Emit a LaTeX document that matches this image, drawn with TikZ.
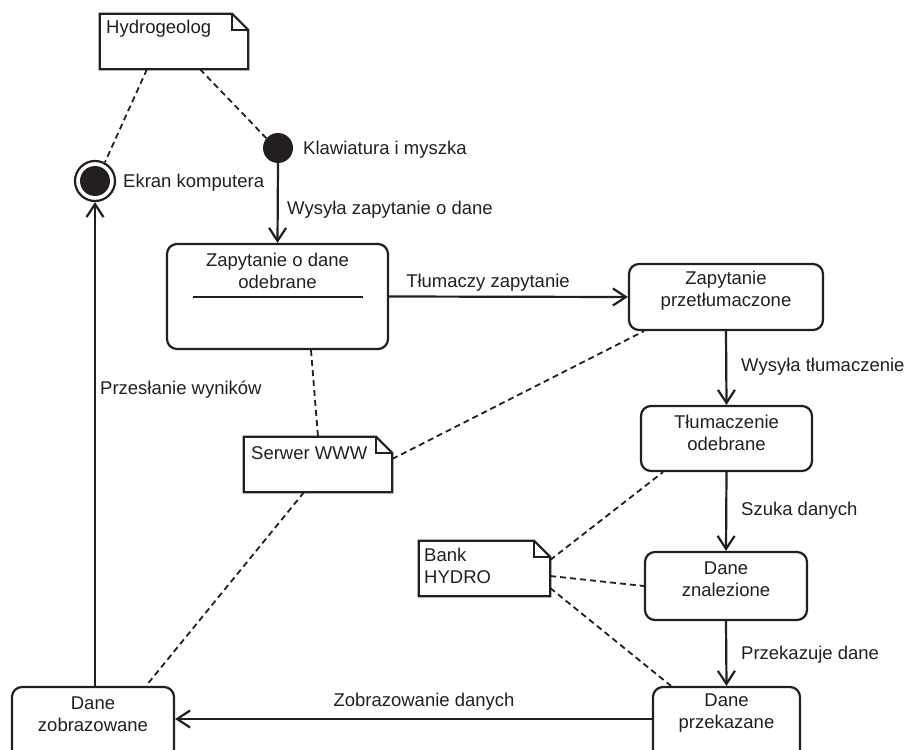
\documentclass[tikz,border=0pt]{standalone}
\usepackage{fontspec}
\setmainfont{Liberation Sans}
\usetikzlibrary{arrows.meta,calc}
\definecolor{ink}{HTML}{231F20}
\begin{document}
\begin{tikzpicture}[x=1pt,y=-1pt,
  every node/.style={font=\fontsize{18.5}{22}\selectfont, text=ink, inner sep=0pt},
  statebox/.style={draw=ink, line width=2.2pt, rounded corners=10pt},
  notebox/.style={draw=none},
  flow/.style={draw=ink, line width=2.2pt, -{Straight Barb[length=13pt,width=17pt,line width=2.2pt]}},
  assoc/.style={draw=ink, line width=1.8pt, dash pattern=on 6pt off 4pt},
  lbl/.style={anchor=west},
  stxt/.style={align=center}
]
\useasboundingbox (0,0) rectangle (904,749);
\clip (0,0) rectangle (904,749);

% note shape with folded corner
\newcommand{\notepath}[1]{%
  \draw[ink, line width=2.2pt, line join=miter]
    (#1.north west) -- ([xshift=-16pt]#1.north east) -- ([yshift=-16pt]#1.north east)
    -- (#1.south east) -- (#1.south west) -- cycle;
  \draw[ink, line width=2pt]
    ([xshift=-16pt]#1.north east) |- ([yshift=-16pt]#1.north east);}

% notes
\node[notebox, minimum width=148pt, minimum height=55pt] (hydro) at (174,41.5) {};
\notepath{hydro}
\node[lbl] (hydrot) at (106,29) {Hydrogeolog};

\node[notebox, minimum width=148pt, minimum height=55pt] (serwer) at (318,464.5) {};
\notepath{serwer}
\node[lbl] (serwert) at (251,453) {Serwer WWW};

\node[notebox, minimum width=131pt, minimum height=55pt] (bank) at (484.5,568.5) {};
\notepath{bank}
\node[lbl, align=left] (bankt) at (424,566) {Bank\\HYDRO};

% initial and final pseudo-states
\node[circle, fill=ink, minimum size=30pt] (klaw) at (278,148) {};
\node[lbl] (klawt) at (303,150) {Klawiatura i myszka};

\node[circle, draw=ink, line width=2.2pt, minimum size=40pt] (ekran) at (95,181) {};
\fill[ink] (ekran.center) circle (15pt);
\node[lbl] (ekrant) at (123,183) {Ekran komputera};

% states
\node[statebox, minimum width=221pt, minimum height=105pt] (zq) at (277.5,296.5) {};
\node[stxt] (zqt) at (277.5,271) {Zapytanie o dane\\odebrane};
\draw[ink, line width=2pt] ([xshift=-85pt]zq.center) -- ([xshift=85pt]zq.center);

\node[statebox, minimum width=194pt, minimum height=66pt] (zp) at (726,297) {};
\node[stxt] (zpt) at (726,291) {Zapytanie\\przetłumaczone};

\node[statebox, minimum width=171pt, minimum height=65pt] (to) at (726.5,438.5) {};
\node[stxt] (tot) at (726.5,432.5) {Tłumaczenie\\odebrane};

\node[statebox, minimum width=162pt, minimum height=68pt] (dzn) at (726,586) {};
\node[stxt] (dznt) at (726,579) {Dane\\znalezione};

\node[statebox, minimum width=147pt, minimum height=83pt] (dp) at (726.5,728.5) {};
\node[stxt] (dpt) at (726.5,713) {Dane\\przekazane};

\node[statebox, minimum width=162pt, minimum height=83pt] (dz) at (93,728.5) {};
\node[stxt] (dzt) at (93,714) {Dane\\zobrazowane};

% transitions
\draw[flow] (klaw.south) -- (zq.north);
\node[lbl] (l1) at (287,210) {Wysyła zapytanie o dane};

\draw[flow] (zq.east) -- (zp.west);
\node (l2) at (488,283) {Tłumaczy zapytanie};

\draw[flow] (zp.south) -- (to.north);
\node[lbl] (l3) at (741,367) {Wysyła tłumaczenie};

\draw[flow] (to.south) -- (dzn.north);
\node[lbl] (l4) at (741,511) {Szuka danych};

\draw[flow] (dzn.south) -- (dp.north);
\node[lbl] (l5) at (741,655) {Przekazuje dane};

\draw[flow] ([yshift=9.5pt]dp.west) -- ([yshift=9.5pt]dz.east);
\node (l6) at (424,702) {Zobrazowanie danych};

\draw[flow] (ekran.south |- dz.north) -- (ekran.south);
\node[lbl] (l7) at (100,390) {Przesłanie wyników};

% associations
\draw[assoc] ([xshift=-27pt]hydro.south) -- (ekran.62);
\draw[assoc] ([xshift=26pt]hydro.south) -- (klaw.140);
\draw[assoc] ([xshift=33.5pt]zq.south) -- (serwer.north);
\draw[assoc] ([yshift=5.5pt]serwer.east) -- ([xshift=-82pt]zp.south);
\draw[assoc] ([xshift=-14pt]serwer.south) -- ([xshift=53pt]dz.north);
\draw[assoc] ([yshift=8.5pt]bank.east) -- ([xshift=-63.5pt]to.south);
\draw[assoc] ([yshift=-7.5pt]bank.east) -- (dzn.west);
\draw[assoc] ([yshift=-19.5pt]bank.east) -- ([xshift=-55.5pt]dp.north);
\end{tikzpicture}
\end{document}
